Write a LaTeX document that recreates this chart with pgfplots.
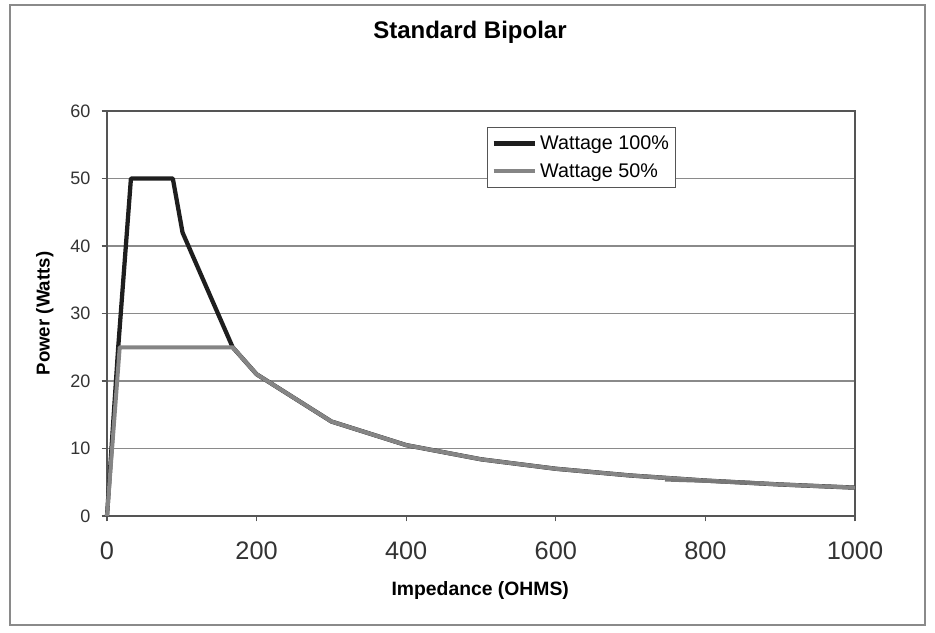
\documentclass[border=0pt]{standalone}
\usepackage{pgfplots}
\pgfplotsset{compat=1.18}
\usepackage{fontspec}
\setmainfont{Liberation Sans}
\definecolor{serA}{HTML}{1E1E1E}
\definecolor{serB}{HTML}{858585}
\definecolor{gridc}{HTML}{8A8A8A}
\definecolor{axisc}{HTML}{555555}
\begin{document}
\begin{tikzpicture}
% page extent and outer chart frame
\path (-80.25pt,-87pt) rectangle (621pt,387pt);
\draw[gridc, line width=1.5pt] (-72.75pt,-81.75pt) rectangle (613.5pt,383.25pt);
\begin{axis}[
  scale only axis,
  width=561pt, height=303.75pt,
  xmin=0, xmax=1000, ymin=0, ymax=60,
  xtick={0,200,...,1000}, ytick={0,10,...,60},
  xtick pos=bottom, ytick pos=left,
  axis line style={axisc, line width=1.2pt},
  ymajorgrids, major grid style={gridc, line width=1.2pt},
  tick style={axisc, line width=1pt},
  tick align=outside, major tick length=4pt,
  x tick label style={font=\fontsize{19}{22}\selectfont, text=black!80, yshift=-12pt},
  y tick label style={font=\fontsize{13.5}{16}\selectfont, text=black!80, xshift=-5pt},
  /pgf/number format/assume math mode=true,
  /pgf/number format/1000 sep={},
  xlabel={Impedance (OHMS)}, ylabel={Power (Watts)},
  xlabel style={font=\bfseries\fontsize{14.5}{17}\selectfont, at={(axis description cs:0.499,-0.183)}, anchor=center},
  ylabel style={font=\bfseries\fontsize{14}{16}\selectfont, at={(axis description cs:-0.083,0.5)}, anchor=center},
  legend style={at={(axis description cs:0.508,0.96)}, anchor=north west,
    draw=axisc, line width=0.8pt, fill=white, font=\fontsize{14.8}{17}\selectfont,
    inner xsep=3pt, inner ysep=4pt, row sep=5pt},
  legend cell align=left,
  legend image code/.code={\draw[#1] (0cm,0cm) -- (1.1cm,0cm);},
  clip=false,
]
\addplot[serA, line width=3.2pt, line join=round] coordinates {
  (0,0) (15,25) (32,50) (88,50) (101,42) (168,25) (200,21) (300,14)
  (400,10.5) (500,8.4) (600,7) (700,6) (800,5.25) (900,4.67) (1000,4.2)};
\addlegendentry{Wattage 100\%}
\addplot[serB, line width=3pt, line join=round] coordinates {
  (0,0) (17,25) (168,25) (200,21) (300,14)
  (400,10.5) (500,8.4) (600,7) (700,6) (800,5.25) (900,4.67) (1000,4.2)};
\addlegendentry{Wattage 50\%}
\addplot[serB!90!black, line width=2.5pt, forget plot] coordinates {(746,5.35) (873,4.9)};
\end{axis}
\node[font=\bfseries\fontsize{18}{21}\selectfont] at (272.25pt,363pt) {Standard Bipolar};
\end{tikzpicture}
\end{document}
